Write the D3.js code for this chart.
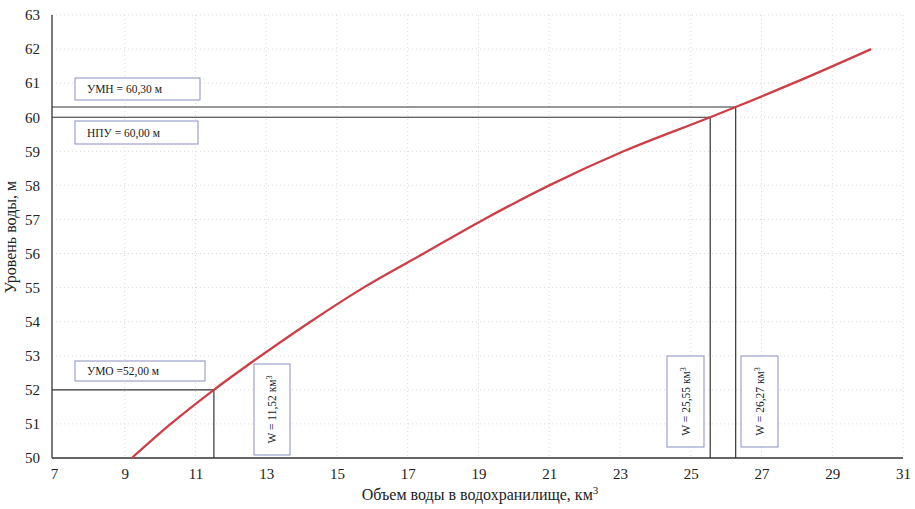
<!DOCTYPE html>
<html><head><meta charset="utf-8">
<script src="https://cdn.jsdelivr.net/npm/d3@7"></script>
<style>
body{margin:0;background:#fff;}
text{font-family:"Liberation Serif","Times New Roman",serif;fill:#222;}
</style></head>
<body><svg id="c" width="915" height="509"></svg>
<script>
const volume = [9.2, 10.3, 11.52, 12.85, 14.25, 15.75, 17.45, 19.15, 21.0, 23.1, 25.55, 26.27, 27.9, 30.1];
const level  = [50, 51, 52, 53, 54, 55, 56, 57, 58, 59, 60, 60.3, 61, 62];
const xTicks = [7, 9, 11, 13, 15, 17, 19, 21, 23, 25, 27, 29, 31];
const yTicks = [50, 51, 52, 53, 54, 55, 56, 57, 58, 59, 60, 61, 62, 63];
const markLevels = [60.3, 60.0, 52.0];
const markVolumes = [26.27, 25.55, 11.52];
const levelLabels = ["УМН = 60,30 м", "НПУ = 60,00 м", "УМО =52,00 м"];
const volumeLabels = ["W = 26,27 км", "W = 25,55 км", "W = 11,52 км"];

const svg = d3.select("#c");
const x = d3.scaleLinear().domain([7, 31]).range([54, 903]);
const y = d3.scaleLinear().domain([50, 63]).range([458, 15]);

// grid
const g = svg.append("g");
g.selectAll(".hg").data(yTicks.slice(1)).join("line")
  .attr("x1", 52).attr("x2", 903).attr("y1", d => y(d)).attr("y2", d => y(d))
  .attr("stroke", "#dadada").attr("stroke-width", 1).attr("stroke-dasharray", "1,3");
g.selectAll(".vg").data(xTicks.slice(1)).join("line")
  .attr("x1", d => x(d)).attr("x2", d => x(d)).attr("y1", 15).attr("y2", 458)
  .attr("stroke", "#dadada").attr("stroke-width", 1).attr("stroke-dasharray", "1,3");

// axes
const xa = svg.append("g").attr("transform", `translate(0,${y(50)})`)
  .call(d3.axisBottom(x).tickValues(xTicks).tickSize(0).tickPadding(10).tickFormat(d3.format("d")));
xa.select(".domain").attr("d", `M52,0H903`).attr("stroke", "#333").attr("stroke-width", 1.3);
xa.selectAll("text").attr("font-size", 15).attr("font-family", "Liberation Serif");
const ya = svg.append("g").attr("transform", "translate(52,0)")
  .call(d3.axisLeft(y).tickValues(yTicks).tickSize(0).tickPadding(12).tickFormat(d3.format("d")));
ya.select(".domain").attr("d", `M0,15V${y(50)}`).attr("stroke", "#333").attr("stroke-width", 1.3);
ya.selectAll("text").attr("font-size", 15).attr("font-family", "Liberation Serif");

// reference lines
markLevels.forEach((lv, i) => {
  svg.append("path")
    .attr("d", `M52,${y(lv)}H${x(markVolumes[i])}V${y(50)}`)
    .attr("fill", "none").attr("stroke", "#333").attr("stroke-width", 1.2);
});

// curve
svg.append("path").datum(volume.map((v, i) => [v, level[i]]))
  .attr("d", d3.line().x(d => x(d[0])).y(d => y(d[1])).curve(d3.curveMonotoneX))
  .attr("fill", "none").attr("stroke", "#cc3f47").attr("stroke-width", 2.3);

// level label boxes
const lboxes = [[75, 78, 125, 22], [75, 121, 123, 23], [75, 361, 130, 20]];
levelLabels.forEach((t, i) => {
  const [bx, by, bw, bh] = lboxes[i];
  svg.append("rect").attr("x", bx).attr("y", by).attr("width", bw).attr("height", bh)
    .attr("fill", "#fff").attr("stroke", "#8a8fc0").attr("stroke-width", 1);
  svg.append("text").attr("x", bx + 12).attr("y", by + bh / 2 + 4).attr("font-size", 11.5).text(t);
});

// volume label boxes
const vboxes = [[741, 356, 37, 91], [667, 356, 37, 91], [254, 364, 36, 91]];
volumeLabels.forEach((t, i) => {
  const [bx, by, bw, bh] = vboxes[i];
  svg.append("rect").attr("x", bx).attr("y", by).attr("width", bw).attr("height", bh)
    .attr("fill", "#fff").attr("stroke", "#8a8fc0").attr("stroke-width", 1);
  const tx = svg.append("text")
    .attr("transform", `translate(${bx + bw / 2 + 4},${by + bh / 2}) rotate(-90)`)
    .attr("text-anchor", "middle").attr("font-size", 11.5).text(t);
  tx.append("tspan").attr("dy", -4).attr("font-size", 8).text("3");
});

// axis titles
const xt = svg.append("text").attr("x", 480).attr("y", 500).attr("text-anchor", "middle")
  .attr("font-size", 16).text("Объем воды в водохранилище, км");
xt.append("tspan").attr("dy", -6).attr("font-size", 11).text("3");
svg.append("text").attr("transform", "translate(16,237) rotate(-90)")
  .attr("text-anchor", "middle").attr("font-size", 16).text("Уровень воды, м");
</script></body></html>
